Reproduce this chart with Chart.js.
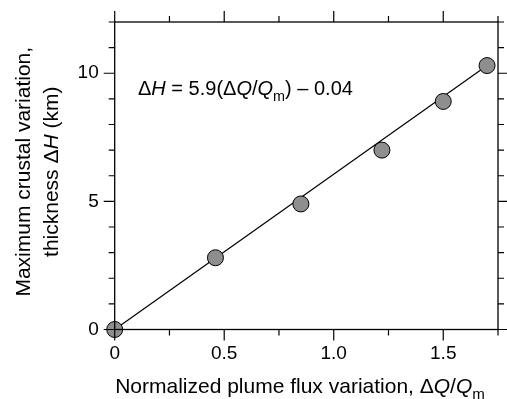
<!DOCTYPE html>
<html><head><meta charset="utf-8">
<script src="https://cdn.jsdelivr.net/npm/chart.js@4/dist/chart.umd.min.js"></script>
<style>html,body{margin:0;padding:0;background:#fff}#wrap{width:507px;height:399px;position:relative}</style>
</head><body><div id="wrap"><canvas id="c"></canvas></div>
<script>
// ---- data ----
const fluxVariation = [0, 0.46, 0.85, 1.22, 1.50, 1.70];   // ΔQ/Qm
const crustThickness = [0, 2.8, 4.9, 7.0, 8.9, 10.3];      // ΔH (km)
const fitLineX = [0, 1.70];
const fitLineY = [0, 10.3];
const xMajorTicks = [0, 0.5, 1.0, 1.5];
const xMinorTicks = [0.25, 0.75, 1.25, 1.75];
const yMajorTicks = [0, 5, 10];
const yMinorTicks = [1, 2, 3, 4, 6, 7, 8, 9, 11, 12];
const xTickText = ['0', '0.5', '1.0', '1.5'];
const yTickText = ['0', '5', '10'];
const xRange = [0, 1.75];
const yRange = [0, 12];

const FONT = '"Liberation Sans", Arial, Helvetica, sans-serif';

function drawRich(ctx, parts, x, y, align, fs) {
  let total = 0;
  const fontOf = p => (p.it ? 'italic ' : '') + (p.sub ? fs * 0.72 : fs) + 'px ' + FONT;
  const ws = parts.map(p => { ctx.font = fontOf(p); const w = ctx.measureText(p.t).width; total += w; return w; });
  let cx = align === 'center' ? x - total / 2 : x;
  parts.forEach((p, i) => {
    ctx.font = fontOf(p);
    ctx.fillText(p.t, cx, p.sub ? y + fs * 0.28 : y);
    cx += ws[i];
  });
}

const framePlugin = {
  id: 'frame',
  afterDraw(chart) {
    const ctx = chart.ctx, a = chart.chartArea;
    const xs = chart.scales.x, ys = chart.scales.y;
    ctx.save();
    ctx.strokeStyle = '#000';
    ctx.lineWidth = 1.3;
    ctx.strokeRect(a.left, a.top, a.right - a.left, a.bottom - a.top);
    ctx.lineWidth = 1.2;
    const tick = (vals, len) => {
      vals.forEach(v => {
        const px = xs.getPixelForValue(v);
        ctx.beginPath();
        ctx.moveTo(px, a.bottom); ctx.lineTo(px, a.bottom + len);
        ctx.moveTo(px, a.top); ctx.lineTo(px, a.top - len);
        ctx.stroke();
      });
    };
    const tickY = (vals, len) => {
      vals.forEach(v => {
        const py = ys.getPixelForValue(v);
        ctx.beginPath();
        ctx.moveTo(a.left, py); ctx.lineTo(a.left - len, py);
        ctx.moveTo(a.right, py); ctx.lineTo(a.right + len, py);
        ctx.stroke();
      });
    };
    tick(xMajorTicks, 11); tick(xMinorTicks, 6);
    tickY(yMajorTicks, 11); tickY(yMinorTicks, 6);

    ctx.fillStyle = '#000';
    ctx.textBaseline = 'alphabetic';
    // annotation
    drawRich(ctx, [
      {t: 'Δ'}, {t: 'H', it: true}, {t: ' = 5.9(Δ'}, {t: 'Q', it: true}, {t: '/'},
      {t: 'Q', it: true}, {t: 'm', sub: true}, {t: ') – 0.04'}
    ], 138, 95, 'left', 20);
    // x title
    drawRich(ctx, [
      {t: 'Normalized plume flux variation, Δ'}, {t: 'Q', it: true}, {t: '/'},
      {t: 'Q', it: true}, {t: 'm', sub: true}
    ], 300, 393, 'center', 21);
    // y title
    const cy = (a.top + a.bottom) / 2 - 4;
    ctx.translate(0, cy);
    ctx.rotate(-Math.PI / 2);
    drawRich(ctx, [{t: 'Maximum crustal variation,'}], 0, 30, 'center', 21);
    drawRich(ctx, [{t: 'thickness Δ'}, {t: 'H', it: true}, {t: ' (km)'}], 0, 58, 'center', 21);
    ctx.restore();
  }
};

new Chart(document.getElementById('c'), {
  data: {
    datasets: [
      {
        type: 'scatter',
        data: fluxVariation.map((x, i) => ({x, y: crustThickness[i]})),
        pointRadius: 8, pointHoverRadius: 8,
        backgroundColor: '#8e8e8e', borderColor: '#000', borderWidth: 1,
        clip: false, order: 0
      },
      {
        type: 'line',
        data: fitLineX.map((x, i) => ({x, y: fitLineY[i]})),
        borderColor: '#000', borderWidth: 1.2, pointRadius: 0,
        fill: false, clip: false, order: 1
      }
    ]
  },
  options: {
    responsive: true, maintainAspectRatio: false, animation: false,
    layout: {padding: {top: 22, right: 7.5, left: 0, bottom: 0}},
    plugins: {legend: {display: false}, tooltip: {enabled: false}},
    scales: {
      x: {
        type: 'linear', min: xRange[0], max: xRange[1],
        afterFit: s => { s.height = 69.5; },
        afterBuildTicks: s => { s.ticks = xMajorTicks.map(v => ({value: v})); },
        grid: {display: true, drawOnChartArea: false, drawTicks: true, tickLength: 11, color: 'rgba(0,0,0,0)'},
        border: {display: false},
        ticks: {padding: 2, color: '#000', font: {family: FONT, size: 19},
          maxRotation: 0, autoSkip: false,
          callback: (v) => xTickText[xMajorTicks.indexOf(v)] ?? ''}
      },
      y: {
        type: 'linear', min: yRange[0], max: yRange[1],
        afterFit: s => { s.width = 114.7; },
        afterBuildTicks: s => { s.ticks = yMajorTicks.map(v => ({value: v})); },
        grid: {display: true, drawOnChartArea: false, drawTicks: true, tickLength: 11, color: 'rgba(0,0,0,0)'},
        border: {display: false},
        ticks: {padding: 5, color: '#000', font: {family: FONT, size: 19}, autoSkip: false,
          callback: (v) => yTickText[yMajorTicks.indexOf(v)] ?? ''}
      }
    }
  },
  plugins: [framePlugin]
});
</script>
</body></html>
